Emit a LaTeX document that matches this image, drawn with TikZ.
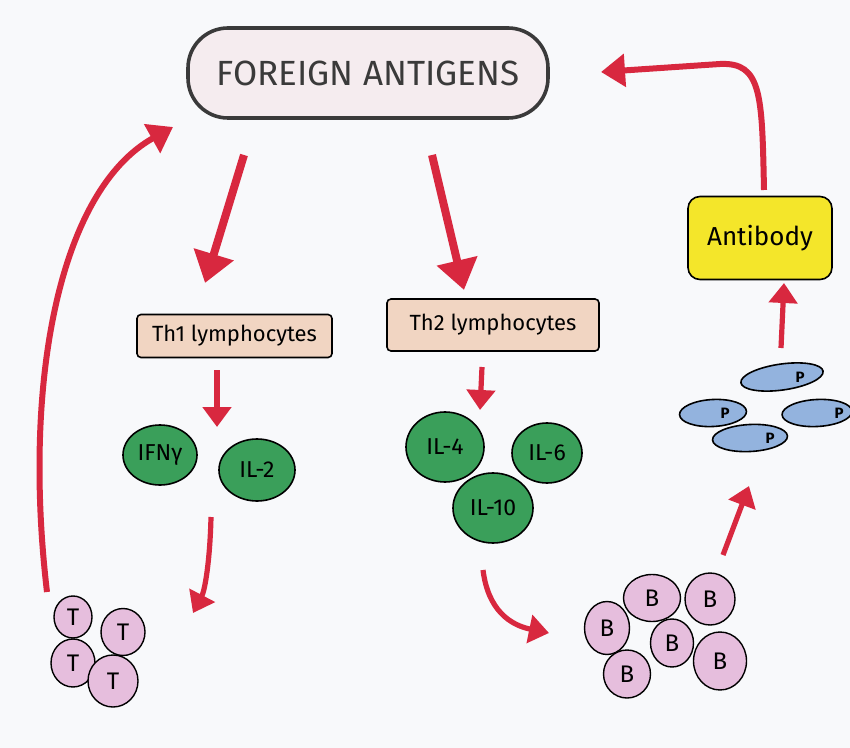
\documentclass[tikz,border=0pt]{standalone}
\usepackage{fontspec}
\setmainfont{Fira Sans}
\usetikzlibrary{arrows.meta,shapes.geometric}
\definecolor{paper}{HTML}{F8F9FB}
\definecolor{redc}{HTML}{D8283F}
\definecolor{titlefill}{HTML}{F5ECEF}
\definecolor{peach}{HTML}{F1D5C2}
\definecolor{greenc}{HTML}{3A9F5A}
\definecolor{pinkc}{HTML}{E6BEDD}
\definecolor{bluec}{HTML}{93B3DE}
\definecolor{yellowc}{HTML}{F4E62A}
\definecolor{edgec}{HTML}{3A3A3A}
\begin{document}
\begin{tikzpicture}[x=0.5pt,y=-0.5pt,
  bigarr/.style={draw=redc, line width=4pt, -{Triangle[length=15pt,width=20pt]}},
  arr/.style={draw=redc, line width=2.6pt, -{Triangle[length=10pt,width=14pt]}},
  curvarr/.style={draw=redc, line width=3pt, -{Triangle[length=12pt,width=16pt]}},
  titlebox/.style={draw=edgec, line width=1.8pt, fill=titlefill, rounded corners=20pt,
    minimum width=180pt, minimum height=45pt, inner sep=0pt,
    font=\fontsize{17.5}{21}\selectfont\color{edgec}},
  thbox/.style={draw=black, line width=0.8pt, fill=peach, rounded corners=2pt, inner sep=0pt,
    font=\fontsize{11}{13}\selectfont},
  abbox/.style={draw=black, line width=0.8pt, fill=yellowc, rounded corners=6pt, inner sep=0pt,
    minimum width=72pt, minimum height=41.5pt, font=\fontsize{13}{15}\selectfont},
  cyto/.style={ellipse, draw=black, line width=0.8pt, fill=greenc, inner sep=0pt,
    font=\fontsize{11.5}{13}\selectfont\color{black}},
  cell/.style={ellipse, draw=black, line width=0.7pt, fill=pinkc, inner sep=0pt,
    font=\fontsize{12}{14}\selectfont},
  plasma/.style={ellipse, draw=black, line width=0.8pt, fill=bluec, inner sep=0pt},
  pl/.style={inner sep=0pt, font=\fontsize{7.5}{8}\selectfont\bfseries}]
\useasboundingbox[fill=paper] (0,0) rectangle (850,748);

% main boxes
\node[titlebox] (fa) at (368,73) {FOREIGN ANTIGENS};
\node[thbox, minimum width=97.5pt, minimum height=21.5pt] (th1) at (234.5,336) {Th1 lymphocytes};
\node[thbox, minimum width=106pt, minimum height=26pt] (th2) at (493,325) {Th2 lymphocytes};
\node[abbox] (ab) at (760,238) {Antibody};

% cytokines
\node[cyto, minimum width=37pt, minimum height=30pt] (ifn) at (160,455) {IFNγ};
\node[cyto, minimum width=38pt, minimum height=31pt] (il2) at (257,470) {IL-2};
\node[cyto, minimum width=39pt, minimum height=35pt] (il4) at (445,447) {IL-4};
\node[cyto, minimum width=35pt, minimum height=30pt] (il6) at (547,453) {IL-6};
\node[cyto, minimum width=40pt, minimum height=35pt] (il10) at (493,508) {IL-10};

% T cells
\node[cell, minimum width=19pt, minimum height=21pt] (t1) at (73,617) {T};
\node[cell, minimum width=22pt, minimum height=23.5pt] (t2) at (123,632) {T};
\node[cell, minimum width=22pt, minimum height=24pt] (t3) at (73,663) {T};
\node[cell, minimum width=25pt, minimum height=26pt] (t4) at (113,681) {T};

% B cells
\node[cell, minimum width=28.5pt, minimum height=23.5pt] (b1) at (652,598) {B};
\node[cell, minimum width=25pt, minimum height=26pt] (b2) at (710,599) {B};
\node[cell, minimum width=22.5pt, minimum height=26.5pt] (b3) at (607,628) {B};
\node[cell, minimum width=21.5pt, minimum height=24pt] (b4) at (672,643) {B};
\node[cell, minimum width=23.5pt, minimum height=24pt] (b5) at (627,674) {B};
\node[cell, minimum width=26.5pt, minimum height=29pt] (b6) at (720,661) {B};

% plasma cells
\node[plasma, minimum width=41.5pt, minimum height=13pt, rotate=8] (p1) at (782,377) {};
\node[plasma, minimum width=33.5pt, minimum height=13.5pt, rotate=3] (p2) at (713,413) {};
\node[plasma, minimum width=35pt, minimum height=13.5pt, rotate=3] (p3) at (817,413) {};
\node[plasma, minimum width=37.5pt, minimum height=13.5pt, rotate=3] (p4) at (750,438) {};
\node[pl] (p1t) at ([xshift=9pt]p1.center) {P};
\node[pl] (p2t) at ([xshift=6pt]p2.center) {P};
\node[pl] (p3t) at ([xshift=11pt]p3.center) {P};
\node[pl] (p4t) at ([xshift=10pt]p4.center) {P};

% arrow end points
\coordinate (a1s) at (244,155); \coordinate (a1e) at (205,283);
\coordinate (a2s) at (432,155); \coordinate (a2e) at (464,290);
\coordinate (a3s) at (217,370); \coordinate (a3e) at (217,427);
\coordinate (a4s) at (482,367); \coordinate (a4e) at (480,410);
\coordinate (a5s) at (211,517); \coordinate (a5e) at (193,613);
\coordinate (a6s) at (47,592);  \coordinate (a6e) at (173,127);
\coordinate (a7s) at (483,570); \coordinate (a7e) at (549,633);
\coordinate (a8s) at (723,555); \coordinate (a8e) at (749,486);
\coordinate (a9s) at (781,348); \coordinate (a9e) at (784,283);
\coordinate (a10s) at (764,190); \coordinate (a10e) at (601,72);

\draw[bigarr] (a1s) -- (a1e);
\draw[bigarr] (a2s) -- (a2e);
\draw[arr] (a3s) -- (a3e);
\draw[arr] (a4s) -- (a4e);
\draw[arr] (a5s) .. controls (210,560) and (205,590) .. (a5e);
\draw[curvarr] (a6s) .. controls (22,380) and (60,190) .. (a6e);
\draw[arr] (a7s) .. controls (488,610) and (510,625) .. (a7e);
\draw[arr] (a8s) -- (a8e);
\draw[arr] (a9s) -- (a9e);
\draw[curvarr] (a10s) .. controls (762,95) and (762,62) .. (720,64) -- (a10e);
\end{tikzpicture}
\end{document}
